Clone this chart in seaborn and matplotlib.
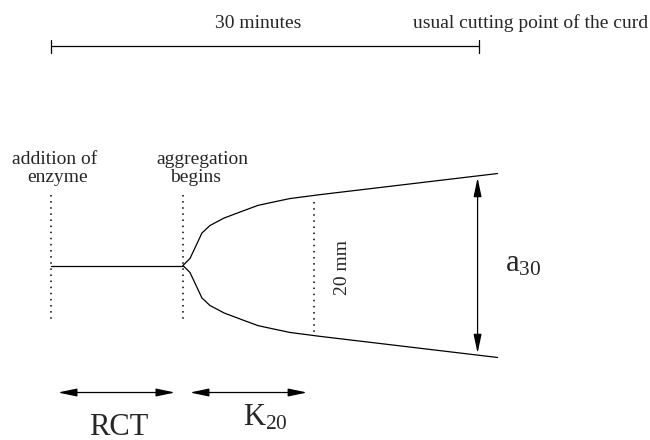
import numpy as np
import pandas as pd
import matplotlib
matplotlib.use("Agg")
import matplotlib.pyplot as plt
import seaborn as sns

# --- Formagraph readings (time in minutes after enzyme addition, width in mm) ---
rct = 9.25            # rennet coagulation time
k20 = 9.2             # time from aggregation until the curd is 20 mm wide
a30 = 27.0            # curd firmness (width) at 30 minutes
cut_time = 30.0       # usual cutting point of the curd
k20_width = 20.0      # width marking K20

curve_time = [9.25, 9.74, 10.09, 10.58, 11.14, 12.13, 13.46, 14.51, 15.56,
              16.75, 18.85, 31.3]
curve_width = [0.0, 2.15, 5.4, 10.0, 12.3, 14.6, 16.8, 18.5, 19.5,
               20.6, 21.8, 28.3]

# scale of the drawing: pixels per minute / per mm
PX_MIN = 428 / 30
PX_MM = 6.5

sns.set_style("white")
plt.rcParams["font.family"] = ["Liberation Serif", "DejaVu Serif"]
plt.rcParams["mathtext.fontset"] = "custom"
plt.rcParams["mathtext.rm"] = "Liberation Serif"
plt.rcParams["mathtext.it"] = "Liberation Serif:italic"

fig = plt.figure(figsize=(6.5, 4.4), dpi=100)
ax = fig.add_axes([0, 0, 1, 1])
ax.set_xlim(-51 / PX_MIN, (650 - 51) / PX_MIN)
ax.set_ylim(-174.5 / PX_MM, 265.5 / PX_MM)
ax.axis("off")

ink = "black"
lw = 0.9

# flat trace before aggregation
flat = pd.DataFrame({"t": [0.0, rct], "w": [0.0, 0.0]})
sns.lineplot(data=flat, x="t", y="w", color=ink, lw=lw, ax=ax, estimator=None)

# the two branches of the formagraph trace
curve = pd.DataFrame({"t": curve_time, "w": curve_width})
curve["upper"] = curve["w"] / 2
curve["lower"] = -curve["w"] / 2
sns.lineplot(data=curve, x="t", y="upper", color=ink, lw=lw, ax=ax,
             estimator=None, sort=False)
sns.lineplot(data=curve, x="t", y="lower", color=ink, lw=lw, ax=ax,
             estimator=None, sort=False)

# dotted markers: enzyme addition, start of aggregation, K20 width
dot = dict(color=ink, lw=1.1, linestyle=(0, (1, 3)))
ax.plot([0, 0], [10.77, -8.92], **dot)
ax.plot([rct, rct], [10.77, -8.92], **dot)
ax.plot([rct + k20, rct + k20], [k20_width / 2 - 0.3, -k20_width / 2 - 0.3], **dot)

# 30-minute scale bar at the top
bar_y = 33.7
ax.plot([0, cut_time], [bar_y, bar_y], color=ink, lw=lw)
for t in (0, cut_time):
    ax.plot([t, t], [bar_y - 0.95, bar_y + 0.95], color=ink, lw=lw)

fs_small = 14
fs_big = 22
ax.text(14.5, 36.6, "30 minutes", ha="center", va="baseline", fontsize=fs_small)
ax.text(25.37, 36.6, "usual cutting point of the curd", ha="left",
        va="baseline", fontsize=fs_small)
ax.text(0.25, 15.55, "addition of", ha="center", va="baseline", fontsize=fs_small)
ax.text(0.45, 12.9, "enzyme", ha="center", va="baseline", fontsize=fs_small)
ax.text(10.6, 15.55, "aggregation", ha="center", va="baseline", fontsize=fs_small)
ax.text(10.1, 12.9, "begins", ha="center", va="baseline", fontsize=fs_small)
ax.text(20.4, -0.3, "20 mm", ha="center", va="center", rotation=90,
        fontsize=fs_small)

# double-headed arrows for RCT, K20 and a30
arrow = dict(arrowstyle="<|-|>,head_length=0.95,head_width=0.2",
             color=ink, lw=lw, mutation_scale=12, shrinkA=0, shrinkB=0)
arrow_y = -19.54
ax.annotate("", xy=(0.49, arrow_y), xytext=(rct - 0.56, arrow_y),
            arrowprops=arrow)
ax.annotate("", xy=(rct + 0.49, arrow_y), xytext=(rct + k20 - 0.5, arrow_y),
            arrowprops=arrow)
ax.annotate("", xy=(cut_time - 0.1, a30 / 2), xytext=(cut_time - 0.1, -a30 / 2),
            arrowprops=arrow)

ax.text(rct / 2 + 0.1, -26.0, "RCT", ha="center", va="baseline", fontsize=fs_big)
ax.text(15.0, -24.6, r"$\mathrm{K}_{\mathrm{20}}$", ha="center", va="baseline",
        fontsize=fs_big)
ax.text(31.82, -0.9, r"$\mathrm{a}_{\mathrm{30}}$", ha="left", va="baseline",
        fontsize=fs_big)

fig.savefig("out.png", dpi=100, facecolor="white")
